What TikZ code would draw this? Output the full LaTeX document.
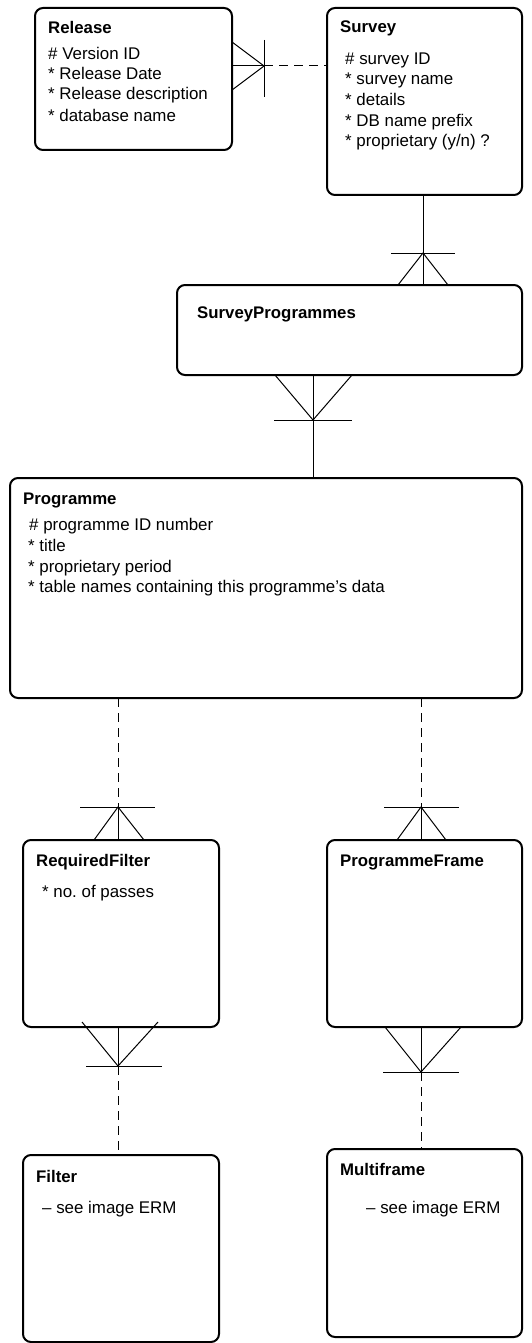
\documentclass[tikz,border=0pt]{standalone}
\usepackage{fontspec}
\setmainfont{Liberation Sans}
\usetikzlibrary{calc}
\frenchspacing
\begin{document}
\begin{tikzpicture}[x=1pt,y=-1pt,
  ent/.style={draw, line width=2pt, rounded corners=8pt, anchor=north west, inner sep=0pt, outer sep=0pt},
  ttl/.style={anchor=base west, font=\fontsize{16.8}{20}\selectfont\bfseries, inner sep=0pt},
  attr/.style={anchor=base west, font=\fontsize{16.9}{20}\selectfont, inner sep=0pt},
  rel/.style={line width=1pt},
  opt/.style={line width=1pt, dash pattern=on 9pt off 6pt}]
\useasboundingbox (0,0) rectangle (532,1343);

% entities
\node[ent, minimum width=197pt, minimum height=142pt] (release) at (35,8) {};
\node[ent, minimum width=195pt, minimum height=187pt] (survey) at (327,8) {};
\node[ent, minimum width=345pt, minimum height=90pt] (sp) at (177,285) {};
\node[ent, minimum width=512pt, minimum height=220pt] (prog) at (10,478) {};
\node[ent, minimum width=196pt, minimum height=187pt] (rf) at (23,840) {};
\node[ent, minimum width=195pt, minimum height=187pt] (pf) at (327,840) {};
\node[ent, minimum width=196pt, minimum height=187pt] (filter) at (23,1155) {};
\node[ent, minimum width=195pt, minimum height=188pt] (mf) at (327,1149) {};

% texts
\node[ttl] (t1) at (48,34) {Release};
\node[attr] (t1a) at (48,60) {\# Version ID};
\node[attr] (t1b) at (48,80) {* Release Date};
\node[attr] (t1c) at (48,100) {* Release description};
\node[attr] (t1d) at (48,122) {* database name};

\node[ttl] (t2) at (340,33) {Survey};
\node[attr] (t2a) at (345,65) {\# survey ID};
\node[attr] (t2b) at (345,85) {* survey name};
\node[attr] (t2c) at (345,106) {* details};
\node[attr] (t2d) at (345,127) {* DB name prefix};
\node[attr] (t2e) at (345,147) {* proprietary (y/n) ?};

\node[ttl] (t3) at (197,318) {SurveyProgrammes};

\node[ttl] (t4) at (23,504) {Programme};
\node[attr] (t4a) at (29,530) {\# programme ID number};
\node[attr] (t4b) at (28,551) {* title};
\node[attr] (t4c) at (28,572) {* proprietary period};
\node[attr] (t4d) at (28,592) {* table names containing this programme’s data};

\node[ttl] (t5) at (36,866) {RequiredFilter};
\node[attr] (t5a) at (42,897) {* no.\ of passes};

\node[ttl] (t6) at (340,866) {ProgrammeFrame};

\node[ttl] (t7) at (36,1182) {Filter};
\node[attr] (t7a) at (42,1213) {– see image ERM};

\node[ttl] (t8) at (340,1175) {Multiframe};
\node[attr] (t8a) at (366,1213) {– see image ERM};

% Release -- Survey
\coordinate (rsA) at (264,66);
\draw[rel] (release.east |- rsA) -- (rsA);
\draw[opt] (rsA) -- (survey.west |- rsA);
\draw[rel] (264,40) -- (264,97);
\draw[rel] (232,42) -- (rsA) -- (232,90);

% Survey -- SurveyProgrammes
\coordinate (ssA) at (423,253);
\draw[rel] (survey.south -| ssA) -- (sp.north -| ssA);
\draw[rel] (391,253) -- (455,253);
\draw[rel] (398,285) -- (ssA) -- (448,285);

% SurveyProgrammes -- Programme
\coordinate (spA) at (313,420);
\draw[rel] (sp.south -| spA) -- (prog.north -| spA);
\draw[rel] (274,420) -- (352,420);
\draw[rel] (275,375) -- (spA) -- (352,375);

% Programme -- RequiredFilter
\coordinate (prA) at (118,807);
\draw[opt] (prog.south -| prA) -- (prA);
\draw[rel] (prA) -- (rf.north -| prA);
\draw[rel] (80,807) -- (155,807);
\draw[rel] (94,840) -- (prA) -- (144,840);

% Programme -- ProgrammeFrame
\coordinate (ppA) at (421,807);
\draw[opt] (prog.south -| ppA) -- (ppA);
\draw[rel] (ppA) -- (pf.north -| ppA);
\draw[rel] (384,807) -- (459,807);
\draw[rel] (397,840) -- (ppA) -- (446,840);

% RequiredFilter -- Filter
\coordinate (rfA) at (118,1066);
\draw[rel] (rf.south -| rfA) -- (rfA);
\draw[opt] (rfA) -- (filter.north -| rfA);
\draw[rel] (86,1066) -- (162,1066);
\draw[rel] (82,1022) -- (rfA) -- (158,1022);

% ProgrammeFrame -- Multiframe
\coordinate (pmA) at (421,1072);
\draw[rel] (pf.south -| pmA) -- (pmA);
\draw[opt] (pmA) -- (mf.north -| pmA);
\draw[rel] (383,1072) -- (459,1072);
\draw[rel] (385,1027) -- (pmA) -- (461,1027);
\end{tikzpicture}
\end{document}
